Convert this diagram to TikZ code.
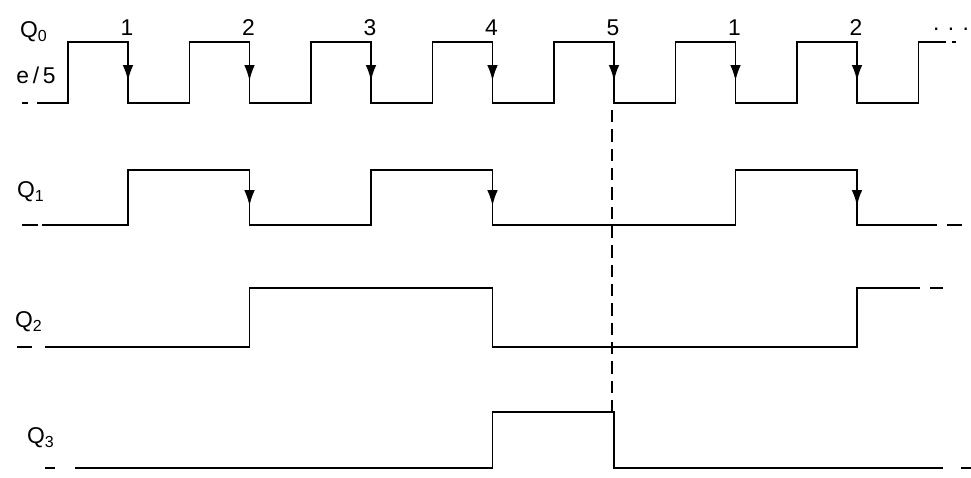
\documentclass[tikz,border=0pt]{standalone}
\usepackage{fontspec}
\setmainfont{Liberation Sans}
\usetikzlibrary{arrows.meta}
\tikzset{
  wave/.style={line width=1.1pt, line join=miter},
  tick/.style={-{Latex[length=9pt,width=6pt]}, line width=1.1pt},
  lbl/.style={font=\fontsize{13}{15}\selectfont, inner sep=1pt}
}
\begin{document}
\begin{tikzpicture}
  \useasboundingbox (0, 0) rectangle (19.42, 9.56);
  % Q0 = e/5
  \draw[wave] (0.44, 7.5) -- (0.56, 7.5);
  \draw[wave] (0.74, 7.5) -- (1.36, 7.5) -- (1.36, 8.72) -- (2.56, 8.72) --
  (2.56, 7.5) -- (3.79, 7.5) -- (3.79, 8.72) -- (4.99, 8.72) -- (4.99, 7.5) --
  (6.22, 7.5) -- (6.22, 8.72) -- (7.42, 8.72) -- (7.42, 7.5) -- (8.65, 7.5) --
  (8.65, 8.72) -- (9.85, 8.72) -- (9.85, 7.5) -- (11.08, 7.5) -- (11.08, 8.72) --
  (12.28, 8.72) -- (12.28, 7.5) -- (13.51, 7.5) -- (13.51, 8.72) -- (14.71, 8.72) --
  (14.71, 7.5) -- (15.94, 7.5) -- (15.94, 8.72) -- (17.14, 8.72) -- (17.14, 7.5) --
  (18.37, 7.5) -- (18.37, 8.72) -- (18.92, 8.72);
  \draw[wave] (19.04, 8.72) -- (19.12, 8.72);
  \foreach \x/\n [count=\i] in {2.56/1, 4.99/2, 7.42/3, 9.85/4, 12.28/5, 14.71/1, 17.14/2} {
    \draw[tick] (\x, 8.72) -- (\x, 7.94);
    \node[lbl, anchor=south] (num\i) at (\x - 0.02, 8.8) {\n};
  }
  \node[lbl] (q0) at (0.68, 8.92) {Q\textsubscript{0}};
  \node[lbl] (e5) at (0.72, 8.06) {e\,/\,5};
  \node[lbl] (dots) at (19.02, 8.98) {. . .};
  % Q1
  \draw[wave] (0.44, 5.06) -- (0.76, 5.06);
  \draw[wave] (0.84, 5.06) -- (2.56, 5.06) -- (2.56, 6.16) -- (4.99, 6.16) --
  (4.99, 5.06) -- (7.42, 5.06) -- (7.42, 6.16) -- (9.85, 6.16) -- (9.85, 5.06) --
  (14.71, 5.06) -- (14.71, 6.16) -- (17.14, 6.16) -- (17.14, 5.06) -- (18.74, 5.06);
  \draw[wave] (18.94, 5.06) -- (19.24, 5.06);
  \foreach \x in {4.99, 9.85, 17.14}
    \draw[tick] (\x, 6.16) -- (\x, 5.44);
  \node[lbl] (q1) at (0.62, 5.72) {Q\textsubscript{1}};
  % Q2
  \draw[wave] (0.34, 2.62) -- (0.64, 2.62);
  \draw[wave] (0.9, 2.62) -- (4.99, 2.62) -- (4.99, 3.8) -- (9.85, 3.8) --
  (9.85, 2.62) -- (17.14, 2.62) -- (17.14, 3.8) -- (18.4, 3.8);
  \draw[wave] (18.6, 3.8) -- (18.86, 3.8);
  \node[lbl] (q2) at (0.58, 3.12) {Q\textsubscript{2}};
  % Q3
  \draw[wave] (0.9, 0.2) -- (1.1, 0.2);
  \draw[wave] (1.5, 0.2) -- (9.85, 0.2) -- (9.85, 1.32) -- (12.28, 1.32) --
  (12.28, 0.2) -- (18.86, 0.2);
  \draw[wave] (19.22, 0.2) -- (19.42, 0.2);
  \node[lbl] (q3) at (0.82, 0.8) {Q\textsubscript{3}};
  % reset line
  \draw[line width=0.9pt, dash pattern=on 7pt off 4pt] (12.24, 7.36) -- (12.24, 1.32);
\end{tikzpicture}
\end{document}
